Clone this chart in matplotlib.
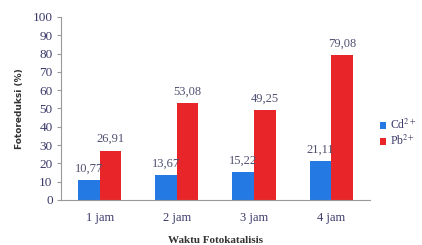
import matplotlib.pyplot as plt
import numpy as np

categories = ['1 jam', '2 jam', '3 jam', '4 jam']
cd_values = [10.77, 13.67, 15.22, 21.11]
pb_values = [26.91, 53.08, 49.25, 79.08]
cd_labels = ['10,77', '13,67', '15,22', '21,11']
pb_labels = ['26,91', '53,08', '49,25', '79,08']

blue = '#2479e2'
red = '#e8262a'
txt = '#3a3a6a'

plt.rcParams['mathtext.fontset'] = 'stix'

fig = plt.figure(figsize=(4.22, 2.45), dpi=100)
ax = fig.add_axes([0.1445, 0.184, 0.732, 0.747])

x = np.arange(len(categories))
w = 0.28
b1 = ax.bar(x - w / 2, cd_values, w, color=blue, label='Cd$^{2+}$')
b2 = ax.bar(x + w / 2, pb_values, w, color=red, label='Pb$^{2+}$')

serif = 'Liberation Serif'
for rect, lab in zip(b1, cd_labels):
    ax.text(rect.get_x() + rect.get_width() / 2, rect.get_height() + 3, lab,
            ha='center', va='bottom', fontsize=9, color='#505070', family=serif)
for rect, lab in zip(b2, pb_labels):
    ax.text(rect.get_x() + rect.get_width() / 2, rect.get_height() + 3, lab,
            ha='center', va='bottom', fontsize=9, color='#505070', family=serif)

ax.set_xlim(-0.5, 3.5)
ax.set_ylim(0, 100)
ax.set_yticks(range(0, 101, 10))
ax.set_xticks(x)
ax.set_xticklabels(categories, family=serif, fontsize=9, color=txt)
for t in ax.get_yticklabels():
    t.set_family(serif)
    t.set_fontsize(9.5)
    t.set_color(txt)
ax.tick_params(axis='x', length=0, pad=9)
ax.tick_params(axis='y', length=3, color='#999999', pad=3)

for s in ['top', 'right']:
    ax.spines[s].set_visible(False)
for s in ['left', 'bottom']:
    ax.spines[s].set_color('#999999')

ax.set_ylabel('Fotoreduksi (%)', fontsize=6.5, fontweight='bold', color='#333333',
              family='Liberation Sans Narrow', labelpad=6)
ax.set_xlabel('Waktu Fotokatalisis', fontsize=8, fontweight='bold', color='#333333',
              family=serif, labelpad=8)

leg = ax.legend(loc='center left', bbox_to_anchor=(1.005, 0.365), frameon=False,
                prop={'family': serif, 'size': 8.5}, handlelength=0.55, handleheight=0.55,
                handletextpad=0.35, labelspacing=0.15, borderpad=0.2)
for t in leg.get_texts():
    t.set_color(txt)

fig.savefig('out.png', dpi=100)
